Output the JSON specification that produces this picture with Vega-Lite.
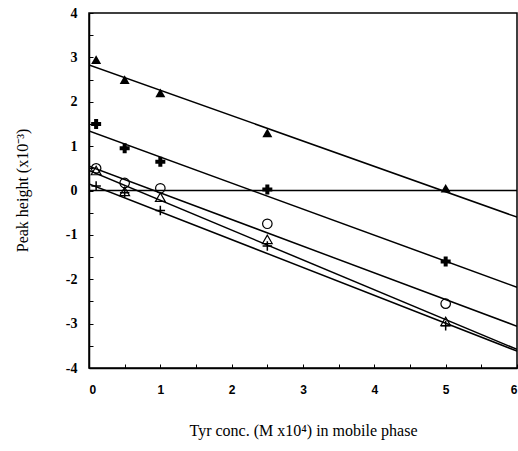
{
  "$schema": "https://vega.github.io/schema/vega-lite/v6.json",
  "autosize": "none",
  "width": 428,
  "height": 355,
  "padding": {"left": 89, "top": 13, "right": 1, "bottom": 83},
  "background": "white",
  "config": {
    "view": {"stroke": "black", "strokeWidth": 1.5},
    "axis": {"grid": false, "domainColor": "black", "domainWidth": 1.5, "tickColor": "black", "labelColor": "black", "titleColor": "black"}
  },
  "datasets": {
    "lines": [
      {"series": "A", "x": 0, "y": 2.83},
      {"series": "A", "x": 6, "y": -0.6},
      {"series": "B", "x": 0, "y": 1.34},
      {"series": "B", "x": 6, "y": -2.18},
      {"series": "Z", "x": 0, "y": 0},
      {"series": "Z", "x": 6, "y": 0},
      {"series": "C", "x": 0, "y": 0.55},
      {"series": "C", "x": 6, "y": -3.06},
      {"series": "D", "x": 0, "y": 0.45},
      {"series": "D", "x": 6, "y": -3.58},
      {"series": "E", "x": 0, "y": 0.15},
      {"series": "E", "x": 6, "y": -3.62}
    ],
    "points": [
      {"series": "A", "x": 0.1, "y": 2.95},
      {"series": "A", "x": 0.5, "y": 2.5},
      {"series": "A", "x": 1, "y": 2.2},
      {"series": "A", "x": 2.5, "y": 1.3},
      {"series": "A", "x": 5, "y": 0.05},
      {"series": "B", "x": 0.1, "y": 1.5},
      {"series": "B", "x": 0.5, "y": 0.95},
      {"series": "B", "x": 1, "y": 0.65},
      {"series": "B", "x": 2.5, "y": 0.02},
      {"series": "B", "x": 5, "y": -1.6},
      {"series": "C", "x": 0.1, "y": 0.5},
      {"series": "C", "x": 0.5, "y": 0.17},
      {"series": "C", "x": 1, "y": 0.05},
      {"series": "C", "x": 2.5, "y": -0.75},
      {"series": "C", "x": 5, "y": -2.55},
      {"series": "D", "x": 0.1, "y": 0.45},
      {"series": "D", "x": 0.5, "y": -0.02},
      {"series": "D", "x": 1, "y": -0.15},
      {"series": "D", "x": 2.5, "y": -1.1},
      {"series": "D", "x": 5, "y": -2.95},
      {"series": "E", "x": 0.1, "y": 0.1},
      {"series": "E", "x": 0.5, "y": -0.05},
      {"series": "E", "x": 1, "y": -0.45},
      {"series": "E", "x": 2.5, "y": -1.25},
      {"series": "E", "x": 5, "y": -3.05}
    ]
  },
  "encoding": {
    "x": {
      "field": "x", "type": "quantitative",
      "scale": {"domain": [0, 6], "nice": false, "zero": false},
      "axis": {
        "title": "Tyr conc. (M x10⁴) in mobile phase",
        "values": [0, 0.5, 1, 1.5, 2, 2.5, 3, 3.5, 4, 4.5, 5, 5.5, 6],
        "labelExpr": "datum.value % 1 == 0 ? format(datum.value, 'd') : ''",
        "tickSize": -4, "labelPadding": 20,
        "labelFont": "Liberation Sans", "labelFontWeight": "bold", "labelFontSize": 12,
        "titleFont": "Liberation Serif", "titleFontSize": 16, "titleFontWeight": "normal",
        "titleY": 62, "titleBaseline": "middle"
      }
    },
    "y": {
      "field": "y", "type": "quantitative",
      "scale": {"domain": [-4, 4], "nice": false, "zero": false},
      "axis": {
        "title": "Peak height (x10⁻³)",
        "values": [-4, -3.5, -3, -2.5, -2, -1.5, -1, -0.5, 0, 0.5, 1, 1.5, 2, 2.5, 3, 3.5, 4],
        "labelExpr": "datum.value % 1 == 0 ? replace(format(datum.value, 'd'), '−', '-') : ''",
        "tickSize": -4, "labelPadding": 16,
        "labelFont": "Liberation Serif", "labelFontWeight": "bold", "labelFontSize": 14,
        "titleFont": "Liberation Serif", "titleFontSize": 16, "titleFontWeight": "normal",
        "titleX": -67, "titleY": 177, "titleAngle": -90, "titleAlign": "center", "titleBaseline": "middle"
      }
    }
  },
  "layer": [
    {
      "data": {"name": "lines"},
      "mark": {"type": "line", "color": "black", "strokeWidth": 1.5, "clip": true},
      "encoding": {"detail": {"field": "series"}}
    },
    {
      "data": {"name": "points"},
      "transform": [{"filter": "datum.series == 'A'"}],
      "mark": {"type": "point", "shape": "triangle-up", "filled": true, "color": "black", "opacity": 1, "size": 100}
    },
    {
      "data": {"name": "points"},
      "transform": [{"filter": "datum.series == 'B'"}],
      "mark": {"type": "point", "shape": "cross", "filled": true, "color": "black", "opacity": 1, "size": 100}
    },
    {
      "data": {"name": "points"},
      "transform": [{"filter": "datum.series == 'C'"}],
      "mark": {"type": "point", "shape": "circle", "filled": false, "color": "black", "opacity": 1, "size": 90, "strokeWidth": 1.2}
    },
    {
      "data": {"name": "points"},
      "transform": [{"filter": "datum.series == 'D'"}],
      "mark": {"type": "point", "shape": "triangle-up", "filled": false, "color": "black", "opacity": 1, "size": 95, "strokeWidth": 1.2}
    },
    {
      "data": {"name": "points"},
      "transform": [{"filter": "datum.series == 'E'"}],
      "mark": {"type": "point", "shape": "M-1,0H1M0,-1V1", "filled": false, "color": "black", "opacity": 1, "size": 90, "strokeWidth": 1.5}
    }
  ]
}
